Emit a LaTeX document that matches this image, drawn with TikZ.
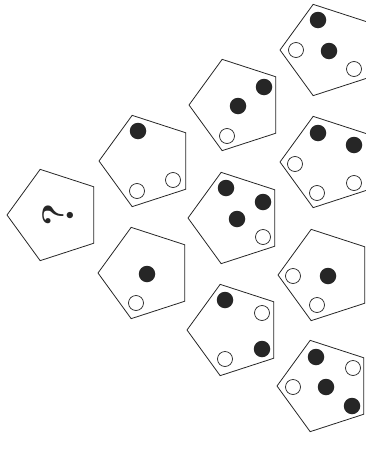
\documentclass[tikz,border=0pt]{standalone}
\usetikzlibrary{shapes.geometric}
\begin{document}
\begin{tikzpicture}[x=1pt,y=-1pt,
  pent/.style={draw=black!85,line width=0.8pt,regular polygon,regular polygon sides=5,shape border rotate=90,minimum size=96pt,inner sep=0pt},
  fdot/.style={circle,fill=black!85,minimum size=16.5pt,inner sep=0pt},
  odot/.style={circle,draw=black!85,line width=0.7pt,fill=white,minimum size=15pt,inner sep=0pt}]
\useasboundingbox (0,0) rectangle (366,450);
% column 1
\node[pent] (p1) at (55,215) {};
\node[rotate=90,font=\fontsize{44}{48}\selectfont\bfseries,text=black!85] (q) at (58,215) {?};
% column 2
\node[pent] (p2) at (147,161) {};
\node[fdot] (p2a) at (138,131) {};
\node[odot] (p2b) at (137,191) {};
\node[odot] (p2c) at (173,180) {};
\node[pent] (p3) at (146,273) {};
\node[fdot] (p3a) at (147,274) {};
\node[odot] (p3b) at (136,303) {};
% column 3
\node[pent] (p4) at (237,105) {};
\node[fdot] (p4a) at (238,106) {};
\node[fdot] (p4b) at (264,87) {};
\node[odot] (p4c) at (227,136) {};
\node[pent] (p5) at (236,218) {};
\node[fdot] (p5a) at (226,188) {};
\node[fdot] (p5b) at (263,202) {};
\node[fdot] (p5c) at (237,219) {};
\node[odot] (p5d) at (263,237) {};
\node[pent] (p6) at (235,330) {};
\node[fdot] (p6a) at (225,300) {};
\node[odot] (p6b) at (262,313) {};
\node[fdot] (p6c) at (262,349) {};
\node[odot] (p6d) at (225,359) {};
% column 4
\node[pent] (p7) at (328,50) {};
\node[fdot] (p7a) at (318,20) {};
\node[odot] (p7b) at (296,50) {};
\node[fdot] (p7c) at (329,51) {};
\node[odot] (p7d) at (354,69) {};
\node[pent] (p8) at (328,162) {};
\node[fdot] (p8a) at (318,133) {};
\node[fdot] (p8b) at (354,145) {};
\node[odot] (p8c) at (295,164) {};
\node[odot] (p8d) at (354,183) {};
\node[odot] (p8e) at (317,193) {};
\node[pent] (p9) at (326,275) {};
\node[odot] (p9a) at (293,276) {};
\node[fdot] (p9b) at (328,276) {};
\node[odot] (p9c) at (317,305) {};
\node[pent] (p10) at (325,386) {};
\node[fdot] (p10a) at (316,357) {};
\node[odot] (p10b) at (353,368) {};
\node[odot] (p10c) at (293,387) {};
\node[fdot] (p10d) at (326,387) {};
\node[fdot] (p10e) at (352,406) {};
\end{tikzpicture}
\end{document}
